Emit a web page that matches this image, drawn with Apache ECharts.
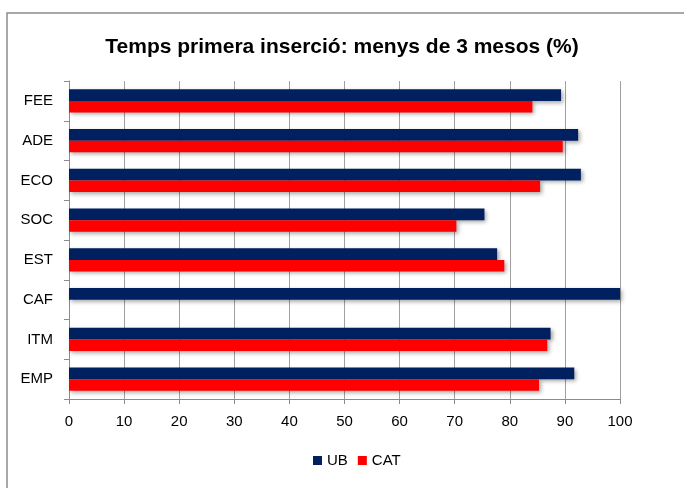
<!DOCTYPE html>
<html>
<head>
<meta charset="utf-8">
<script src="https://cdn.jsdelivr.net/npm/echarts@6/dist/echarts.min.js"></script>
<style>
  html, body { margin: 0; padding: 0; background: #fff; }
  #chart { width: 684px; height: 488px; }
</style>
</head>
<body>
<div id="chart"></div>
<script>
// categories listed top to bottom as in the picture
var categories = ['FEE', 'ADE', 'ECO', 'SOC', 'EST', 'CAF', 'ITM', 'EMP'];
var ubValues = [89.3, 92.4, 92.9, 75.4, 77.7, 100, 87.4, 91.7];
var catValues = [84.1, 89.6, 85.5, 70.3, 79.0, null, 86.8, 85.3];
var xTicks = [0, 10, 20, 30, 40, 50, 60, 70, 80, 90, 100];

var chart = echarts.init(document.getElementById('chart'));
var font = 'Liberation Sans';
var barShadow = {
  shadowColor: 'rgba(0,0,0,0.35)',
  shadowBlur: 4,
  shadowOffsetX: 2,
  shadowOffsetY: 2
};

var option = {
  backgroundColor: '#fff',
  animation: false,
  graphic: [{
    type: 'rect',
    shape: { x: 7, y: 13, width: 700, height: 500 },
    style: { fill: 'none', stroke: '#8c8c8c', lineWidth: 1.5 },
    silent: true
  }],
  title: {
    text: 'Temps primera inserció: menys de 3 mesos (%)',
    left: 'center',
    top: 32,
    textStyle: { fontFamily: font, fontWeight: 'bold', fontSize: 21, color: '#000' }
  },
  legend: {
    data: ['UB', 'CAT'],
    top: 448,
    left: 308,
    itemWidth: 9,
    itemHeight: 9,
    itemGap: 10,
    icon: 'rect',
    textStyle: { fontFamily: font, fontSize: 15, color: '#000' }
  },
  grid: { left: 69, right: 64, top: 81, bottom: 89 },
  xAxis: {
    type: 'value',
    min: xTicks[0],
    max: xTicks[xTicks.length - 1],
    interval: 10,
    axisLine: { show: true, lineStyle: { color: '#8c8c8c' } },
    axisTick: { show: true, length: 5, lineStyle: { color: '#8c8c8c' } },
    axisLabel: { fontFamily: font, fontSize: 15, color: '#000', margin: 15 },
    splitLine: { show: true, lineStyle: { color: '#a0a0a0', width: 1 } }
  },
  yAxis: {
    type: 'category',
    data: categories,
    inverse: true,
    axisLine: { show: true, lineStyle: { color: '#8c8c8c' } },
    axisTick: { show: true, length: 5, lineStyle: { color: '#8c8c8c' } },
    axisLabel: { fontFamily: font, fontSize: 15, color: '#000', margin: 16 }
  },
  series: [
    {
      name: 'UB',
      type: 'bar',
      data: ubValues,
      barGap: '0%',
      barCategoryGap: '42%',
      itemStyle: Object.assign({ color: '#002060' }, barShadow)
    },
    {
      name: 'CAT',
      type: 'bar',
      data: catValues,
      itemStyle: Object.assign({ color: '#ff0000' }, barShadow)
    }
  ]
};

chart.setOption(option);
</script>
</body>
</html>
